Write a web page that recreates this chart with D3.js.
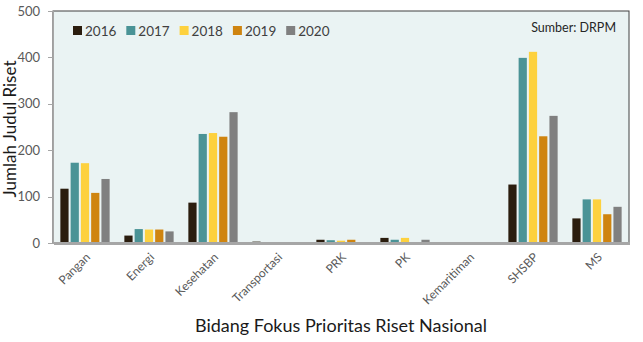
<!DOCTYPE html>
<html lang="id">
<head>
    <meta charset="UTF-8">
    <title>Jumlah Judul Riset</title>
    <script src="https://cdn.jsdelivr.net/npm/d3@7"></script>
    <style>
        body { margin: 0; background: #fff; }
        svg text { font-family: Lato, "Open Sans", sans-serif; }
        .axis path, .axis line { stroke: #a6a6a6; shape-rendering: crispEdges; }
        .axis text { fill: #595959; }
    </style>
</head>
<body>
<script>
    // data
    var categories = ['Pangan', 'Energi', 'Kesehatan', 'Transportasi', 'PRK', 'PK', 'Kemaritiman', 'SHSBP', 'MS'];
    var years = ['2016', '2017', '2018', '2019', '2020'];
    var v2016 = [117, 16, 87, 3, 7, 11, 0, 126, 53];
    var v2017 = [173, 30, 235, 0, 6, 7, 0, 399, 94];
    var v2018 = [172, 29, 237, 0, 5, 11, 0, 412, 94];
    var v2019 = [108, 29, 229, 0, 7, 2, 0, 230, 62];
    var v2020 = [138, 25, 282, 0, 2, 7, 0, 274, 78];
    var yTicks = [0, 100, 200, 300, 400, 500];
    var colors = ['#2b1d0e', '#4a9396', '#fdd13e', '#cf840f', '#808080'];

    var series = [v2016, v2017, v2018, v2019, v2020];

    // plot area (avoid "top" - it is window.top)
    var w = 643, h = 342;
    var pLeft = 53, pTop = 11, pRight = 629, pBottom = 243;

    var svg = d3.select('body').append('svg')
        .attr('width', w)
        .attr('height', h);

    // plot background
    svg.append('rect')
        .attr('x', pLeft).attr('y', pTop)
        .attr('width', pRight - pLeft).attr('height', pBottom - pTop)
        .attr('fill', '#eaf3f3')
        .attr('stroke', '#404040')
        .attr('stroke-width', 1);

    var x0 = d3.scaleBand().domain(categories).range([pLeft, pRight]).paddingInner(0.23).paddingOuter(0.115);
    var x1 = d3.scaleBand().domain(years).range([0, x0.bandwidth()]).paddingInner(0.2);
    var y = d3.scaleLinear().domain([0, 500]).range([pBottom, pTop]);

    // bars
    var groups = svg.selectAll('g.cat')
        .data(categories)
        .enter()
        .append('g')
        .attr('class', 'cat')
        .attr('transform', function(d) { return 'translate(' + x0(d) + ',0)'; });

    groups.selectAll('rect')
        .data(function(d, i) {
            return years.map(function(yr, j) { return { year: yr, value: series[j][i], idx: j }; });
        })
        .enter()
        .append('rect')
        .attr('x', function(d) { return x1(d.year); })
        .attr('y', function(d) { return y(d.value); })
        .attr('width', x1.bandwidth())
        .attr('height', function(d) { return pBottom - y(d.value); })
        .attr('fill', function(d) { return colors[d.idx]; });

    // y axis
    var yAxis = d3.axisLeft(y).tickValues(yTicks).tickSize(5).tickPadding(8);
    var gy = svg.append('g')
        .attr('class', 'axis')
        .attr('transform', 'translate(' + pLeft + ',0)')
        .call(yAxis);
    gy.select('.domain').attr('stroke-width', 1.5);
    gy.selectAll('text').attr('font-size', '13px');

    // x axis
    var xAxis = d3.axisBottom(x0).tickSize(0).tickPadding(0);
    var gx = svg.append('g')
        .attr('class', 'axis')
        .attr('transform', 'translate(0,' + pBottom + ')')
        .call(xAxis);
    gx.select('.domain').attr('stroke-width', 2.5);
    gx.selectAll('text')
        .attr('font-size', '12px')
        .attr('text-anchor', 'end')
        .attr('x', 0).attr('y', 0)
        .attr('dy', '0.35em')
        .attr('transform', 'translate(3,12) rotate(-45)');

    // legend
    var legend = svg.selectAll('g.leg')
        .data(years)
        .enter()
        .append('g')
        .attr('class', 'leg')
        .attr('transform', function(d, i) { return 'translate(' + (73 + i * 53.3) + ',26)'; });
    legend.append('rect')
        .attr('width', 9).attr('height', 9)
        .attr('fill', function(d, i) { return colors[i]; });
    legend.append('text')
        .attr('x', 12).attr('y', 9.5)
        .attr('font-size', '13.5px')
        .attr('fill', '#404040')
        .text(function(d) { return d; });

    // source note
    svg.append('text')
        .attr('x', 616).attr('y', 32)
        .attr('text-anchor', 'end')
        .attr('font-size', '12.5px')
        .attr('fill', '#262626')
        .text('Sumber: DRPM');

    // axis titles
    svg.append('text')
        .attr('transform', 'translate(16,129) rotate(-90)')
        .attr('text-anchor', 'middle')
        .attr('font-size', '17px')
        .attr('fill', '#1a1a1a')
        .text('Jumlah Judul Riset');

    svg.append('text')
        .attr('x', 341).attr('y', 332)
        .attr('text-anchor', 'middle')
        .attr('font-size', '18px')
        .attr('fill', '#1a1a1a')
        .text('Bidang Fokus Prioritas Riset Nasional');
</script>
</body>
</html>
